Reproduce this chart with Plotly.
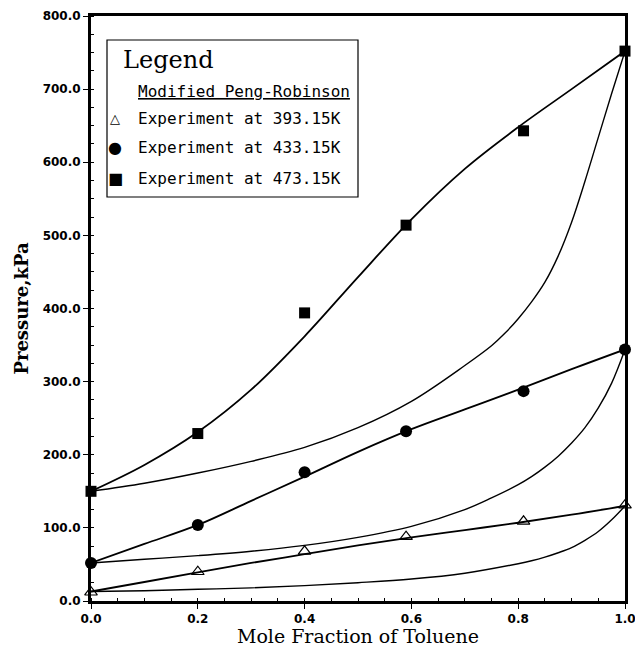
import plotly.graph_objects as go

# Experimental points
x_exp = [0.0, 0.2, 0.4, 0.59, 0.81, 1.0]
p_393 = [12, 40, 68, 88, 109, 131]
p_433 = [52, 104, 176, 232, 287, 344]
p_473 = [150, 229, 394, 514, 643, 752]

# Modified Peng-Robinson curves
bub473_x = [0, 0.1, 0.2, 0.3, 0.4, 0.5, 0.6, 0.7, 0.8, 0.9, 1.0]
bub473_p = [150, 186, 231, 289, 362, 443, 522, 591, 648, 700, 752]
dew473_x = [0, 0.1, 0.2, 0.3, 0.4, 0.5, 0.6, 0.7, 0.75, 0.775, 0.8, 0.825, 0.85, 0.875,
            0.9, 0.925, 0.95, 0.975, 1.0]
dew473_p = [150, 161, 175, 191, 210, 237, 273, 322, 349, 366, 386, 409, 436, 472,
            518, 574, 634, 694, 752]

bub433_x = [0, 0.1, 0.2, 0.3, 0.4, 0.5, 0.6, 0.7, 0.8, 0.9, 1.0]
bub433_p = [52, 78, 104, 137, 170, 204, 235, 262, 289, 317, 344]
dew433_x = [0, 0.1, 0.2, 0.3, 0.4, 0.5, 0.6, 0.7, 0.75, 0.8, 0.825, 0.85, 0.875,
            0.9, 0.925, 0.95, 0.975, 1.0]
dew433_p = [52, 57, 62, 68, 76, 87, 102, 125, 141, 159, 170, 183, 198,
            216, 237, 264, 298, 344]

bub393_x = [0, 0.1, 0.2, 0.3, 0.4, 0.5, 0.6, 0.7, 0.8, 0.9, 1.0]
bub393_p = [13, 26, 39, 52, 64, 76, 87, 97, 107, 118, 130]
dew393_x = [0, 0.1, 0.2, 0.3, 0.4, 0.5, 0.6, 0.7, 0.8, 0.825, 0.85, 0.875,
            0.9, 0.925, 0.95, 0.975, 1.0]
dew393_p = [13, 14, 16, 18, 21, 25, 30, 38, 51, 55, 60, 66,
            73, 83, 95, 111, 130]

x_ticks = [0.0, 0.2, 0.4, 0.6, 0.8, 1.0]
x_tick_text = ["0.0", "0.2", "0.4", "0.6", "0.8", "1.0"]
y_ticks = [0, 100, 200, 300, 400, 500, 600, 700, 800]
y_tick_text = ["0.0", "100.0", "200.0", "300.0", "400.0", "500.0", "600.0", "700.0", "800.0"]

legend_title = "Legend"
legend_rows = ["Modified Peng-Robinson", "Experiment at 393.15K",
               "Experiment at 433.15K", "Experiment at 473.15K"]
legend_syms = ["", "△", "●", "■"]

fig = go.Figure()

curves = [(bub473_x, bub473_p, 1.8), (dew473_x, dew473_p, 1.4),
          (bub433_x, bub433_p, 1.8), (dew433_x, dew433_p, 1.4),
          (bub393_x, bub393_p, 1.8), (dew393_x, dew393_p, 1.4)]
for cx, cp, w in curves:
    fig.add_trace(go.Scatter(x=cx, y=cp, mode="lines",
                             line=dict(color="black", width=w, shape="spline", smoothing=1.0),
                             showlegend=False, hoverinfo="skip", cliponaxis=False))

fig.add_trace(go.Scatter(x=x_exp, y=p_393, mode="markers", name="Experiment at 393.15K",
                         marker=dict(symbol="triangle-up-open", size=11, color="black",
                                     line=dict(width=1.2, color="black")),
                         showlegend=False, cliponaxis=False))
fig.add_trace(go.Scatter(x=x_exp, y=p_433, mode="markers", name="Experiment at 433.15K",
                         marker=dict(symbol="circle", size=12, color="black"),
                         showlegend=False, cliponaxis=False))
fig.add_trace(go.Scatter(x=x_exp, y=p_473, mode="markers", name="Experiment at 473.15K",
                         marker=dict(symbol="square", size=11, color="black"),
                         showlegend=False, cliponaxis=False))

# Legend box (manual)
W, H = 635, 647
ml, mr, mt, mb = 91, 10, 16, 46
pw, ph = W - ml - mr, H - mt - mb

def px(xp):
    return (xp - ml) / pw

def py(yp):
    return 1 - (yp - mt) / ph

fig.add_shape(type="rect", xref="paper", yref="paper",
              x0=px(107), x1=px(358), y0=py(197), y1=py(40),
              line=dict(color="black", width=1.2), fillcolor="white", layer="above")

fig.add_annotation(xref="paper", yref="paper", x=px(121), y=py(60), xanchor="left", yanchor="middle",
                   text=legend_title, showarrow=False,
                   font=dict(family="DejaVu Serif", size=24, color="black"))
row_y = [92, 118, 148, 178]
for i, (t, s) in enumerate(zip(legend_rows, legend_syms)):
    txt = "<u>" + t + "</u>" if i == 0 else t
    fig.add_annotation(xref="paper", yref="paper", x=px(136), y=py(row_y[i]),
                       xanchor="left", yanchor="middle", text=txt, showarrow=False,
                       font=dict(family="DejaVu Sans Mono", size=16, color="black"))
    if s:
        fig.add_annotation(xref="paper", yref="paper", x=px(115), y=py(row_y[i]),
                           xanchor="center", yanchor="middle", text=s, showarrow=False,
                           font=dict(family="DejaVu Sans", size=13 if s == "△" else 16, color="black"))

fig.update_layout(
    width=W, height=H,
    margin=dict(l=ml, r=mr, t=mt, b=mb, autoexpand=False),
    paper_bgcolor="white", plot_bgcolor="white",
    showlegend=False,
    xaxis=dict(range=[0, 1], tickvals=x_ticks, ticktext=x_tick_text, automargin=False,
               ticklabeloverflow="allow",
               showgrid=False, zeroline=False, showline=True, linewidth=3, linecolor="black",
               mirror=True, ticks="outside", ticklen=5, tickwidth=1.2, tickcolor="black",
               minor=dict(ticks="inside", ticklen=3, tickwidth=1, tickcolor="black", dtick=0.05),
               tickfont=dict(family="DejaVu Sans", size=12, color="black", weight="bold"),
               title=dict(text="Mole Fraction of Toluene", standoff=3,
                          font=dict(family="DejaVu Serif", size=19, color="black"))),
    yaxis=dict(range=[0, 800], tickvals=y_ticks, ticktext=y_tick_text, automargin=False,
               showgrid=False, zeroline=False, showline=True, linewidth=3, linecolor="black",
               mirror=True, ticks="outside", ticklen=5, tickwidth=1.2, tickcolor="black",
               minor=dict(ticks="inside", ticklen=3, tickwidth=1, tickcolor="black", dtick=25),
               tickfont=dict(family="DejaVu Sans", size=12, color="black", weight="bold"),
               title=dict(text="Pressure,kPa", standoff=10,
                          font=dict(family="DejaVu Serif", size=18, color="black", weight="bold"))),
)

fig.write_html("out.html", config={"displayModeBar": False},
               post_script="document.body.style.margin='0px';")
